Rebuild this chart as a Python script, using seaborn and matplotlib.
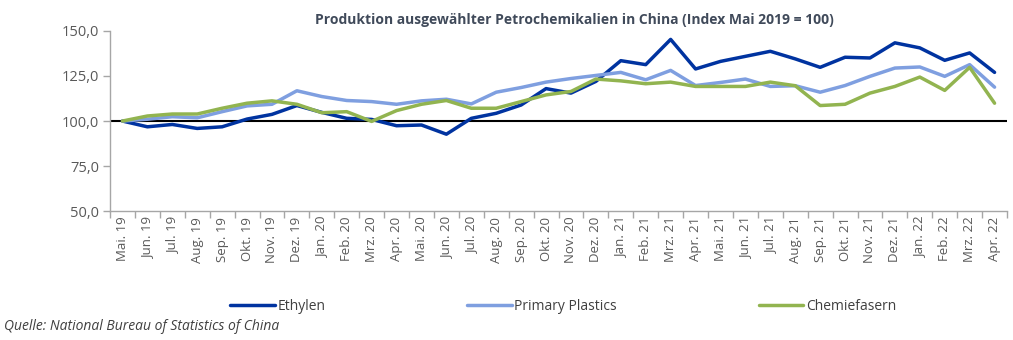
import matplotlib
matplotlib.use("Agg")
import matplotlib.pyplot as plt
import seaborn as sns
import pandas as pd
from matplotlib.ticker import FixedLocator

months = ["Mai. 19", "Jun. 19", "Jul. 19", "Aug. 19", "Sep. 19", "Okt. 19", "Nov. 19", "Dez. 19",
          "Jan. 20", "Feb. 20", "Mrz. 20", "Apr. 20", "Mai. 20", "Jun. 20", "Jul. 20", "Aug. 20",
          "Sep. 20", "Okt. 20", "Nov. 20", "Dez. 20", "Jan. 21", "Feb. 21", "Mrz. 21", "Apr. 21",
          "Mai. 21", "Jun. 21", "Jul. 21", "Aug. 21", "Sep. 21", "Okt. 21", "Nov. 21", "Dez. 21",
          "Jan. 22", "Feb. 22", "Mrz. 22", "Apr. 22"]

ethylen = [100, 96.8, 98.1, 95.9, 96.8, 101.1, 103.7, 108.6, 104.8, 101.5, 100.9, 97.4,
           97.8, 92.7, 101.5, 104.3, 108.9, 118.0, 115.5, 122.0, 133.5, 131.3, 145.3, 128.9,
           133.1, 135.9, 138.7, 134.5, 129.8, 135.4, 135.0, 143.4, 140.6, 133.7, 137.8, 127.0]

plastics = [100, 101.0, 102.4, 101.8, 105.2, 108.4, 109.3, 116.8, 113.6, 111.4, 110.8, 109.3,
            111.2, 112.1, 109.5, 116.0, 118.6, 121.6, 123.6, 125.3, 127.0, 122.9, 128.1, 119.7,
            121.4, 123.3, 119.2, 119.6, 116.0, 119.7, 124.8, 129.4, 130.0, 124.8, 131.3, 118.8]

chemie = [100, 102.8, 103.9, 103.9, 107.1, 109.9, 111.2, 109.3, 104.6, 105.2, 99.8, 105.8,
          109.3, 111.4, 107.1, 107.1, 110.8, 114.5, 116.4, 123.3, 122.3, 120.7, 121.6, 119.2,
          119.2, 119.2, 121.6, 119.6, 108.6, 109.3, 115.5, 119.2, 124.4, 117.0, 129.8, 109.9]

series_names = ["Ethylen", "Primary Plastics", "Chemiefasern"]
colors = ["#0033A0", "#7F9FE0", "#92B450"]

yticks = [50, 75, 100, 125, 150]
ytick_labels = ["50,0", "75,0", "100,0", "125,0", "150,0"]

title = "Produktion ausgewählter Petrochemikalien in China (Index Mai 2019 = 100)"
source = "Quelle: National Bureau of Statistics of China"

df = pd.DataFrame({"idx": list(range(len(months))) * 3,
                   "value": ethylen + plastics + chemie,
                   "series": sum([[n] * len(months) for n in series_names], [])})

sns.set_theme(style="white")
plt.rcParams["font.family"] = ["Open Sans", "DejaVu Sans"]

fig = plt.figure(figsize=(10.13, 3.4), dpi=100)
ax = fig.add_axes([0.1086, 0.379, 0.8855, 0.53])

ax.axhline(100, color="black", lw=1.5, zorder=1)
sns.lineplot(data=df, x="idx", y="value", hue="series", hue_order=series_names,
             palette=colors, linewidth=2.5, ax=ax, legend=True, zorder=3)

ax.set_xlim(-0.5, len(months) - 0.5)
ax.set_ylim(50, 150)
ax.set_xticks(range(len(months)))
ax.set_xticklabels(months, rotation=90, fontsize=9.5, color="#595959")
ax.xaxis.set_minor_locator(FixedLocator([i + 0.5 for i in range(-1, len(months))]))
ax.tick_params(axis="x", which="major", length=0, pad=4)
ax.tick_params(axis="x", which="minor", length=5, width=1, color="#A6A6A6", direction="out", bottom=True)
ax.set_yticks(yticks)
ax.set_yticklabels(ytick_labels, fontsize=10.5, color="#595959")
ax.tick_params(axis="y", length=5, width=1, color="#A6A6A6", direction="out", left=True, pad=3)
ax.set_xlabel("")
ax.set_ylabel("")

for s in ["top", "right"]:
    ax.spines[s].set_visible(False)
for s in ["left", "bottom"]:
    ax.spines[s].set_color("#A6A6A6")
    ax.spines[s].set_linewidth(1)

fig.text(0.567, 0.94, title, ha="center", va="center", fontsize=10, fontweight="bold", color="#404A5A")

handles, labels = ax.get_legend_handles_labels()
ax.legend_.remove()
leg = fig.legend(handles, labels, loc="center", bbox_to_anchor=(0.556, 0.1), ncol=3,
                 frameon=False, fontsize=10, columnspacing=10.2, handlelength=3.2, handletextpad=0.2)
for t in leg.get_texts():
    t.set_color("#404040")

fig.text(0.004, 0.04, source, ha="left", va="center", fontsize=10, style="italic", color="#404040")

fig.savefig("out.png", dpi=100)
